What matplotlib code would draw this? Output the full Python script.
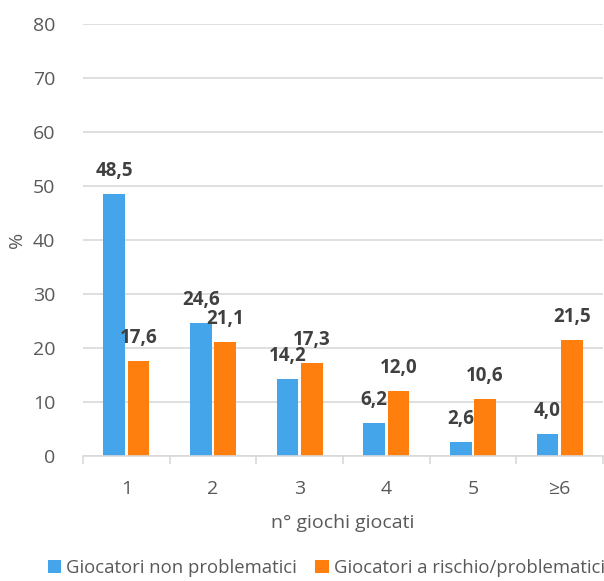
import numpy as np
import matplotlib.pyplot as plt
from matplotlib.ticker import FixedLocator

categories = ["1", "2", "3", "4", "5", "≥6"]
non_problematici = [48.5, 24.6, 14.2, 6.2, 2.6, 4.0]
rischio_problematici = [17.6, 21.1, 17.3, 12.0, 10.6, 21.5]
series_names = ["Giocatori non problematici", "Giocatori a rischio/problematici"]

plt.rcParams['font.family'] = ['Open Sans', 'DejaVu Sans']
blue = "#45A5EB"
orange = "#FF7F0E"
grey = "#595959"

fig = plt.figure(figsize=(6.04, 5.81), dpi=100)
ax = fig.add_axes([83 / 604, 1 - 456 / 581, 520 / 604, (456 - 24) / 581])

x = np.arange(len(categories))
w = 0.25
b1 = ax.bar(x - 0.14, non_problematici, w, color=blue, label=series_names[0], zorder=3)
b2 = ax.bar(x + 0.14, rischio_problematici, w, color=orange, label=series_names[1], zorder=3)

for bars in (b1, b2):
    for r in bars:
        h = r.get_height()
        ax.annotate(f"{h:.1f}".replace(".", ","), (r.get_x() + r.get_width() / 2, h),
                    xytext=(0, 16.5), textcoords='offset points', ha='center', va='center',
                    fontsize=13.5, fontweight='bold', color="#404040")

ax.set_ylim(0, 80)
ax.set_xlim(-0.5, len(categories) - 0.5)
ax.set_yticks(range(0, 81, 10))
ax.grid(axis='y', color="#D9D9D9", linewidth=1.2, zorder=0)
for s in ['top', 'right', 'left']:
    ax.spines[s].set_visible(False)
ax.spines['bottom'].set_color("#D9D9D9")
ax.spines['bottom'].set_linewidth(1.2)
ax.spines['bottom'].set_zorder(4)

ax.set_xticks(x)
ax.set_xticklabels(categories)
ax.xaxis.set_minor_locator(FixedLocator(np.arange(-0.5, len(categories), 1)))
ax.tick_params(axis='x', which='minor', length=6, color="#D9D9D9", width=1.2)
ax.tick_params(axis='x', which='major', length=0, pad=17, labelsize=14, labelcolor=grey)
ax.tick_params(axis='y', length=0, pad=20, labelsize=14, labelcolor=grey)

ax.set_xlabel("n° giochi giocati", fontsize=14, color=grey, labelpad=12)
ax.set_ylabel("%", fontsize=14, color=grey, labelpad=5)

fig.legend(loc='center', bbox_to_anchor=(0.54, 1 - 568 / 581), ncol=2, frameon=False,
           fontsize=13.3, labelcolor=grey, handlelength=0.75, handleheight=0.75,
           handletextpad=0.25, columnspacing=1.0)

fig.savefig("out.png", dpi=100)
